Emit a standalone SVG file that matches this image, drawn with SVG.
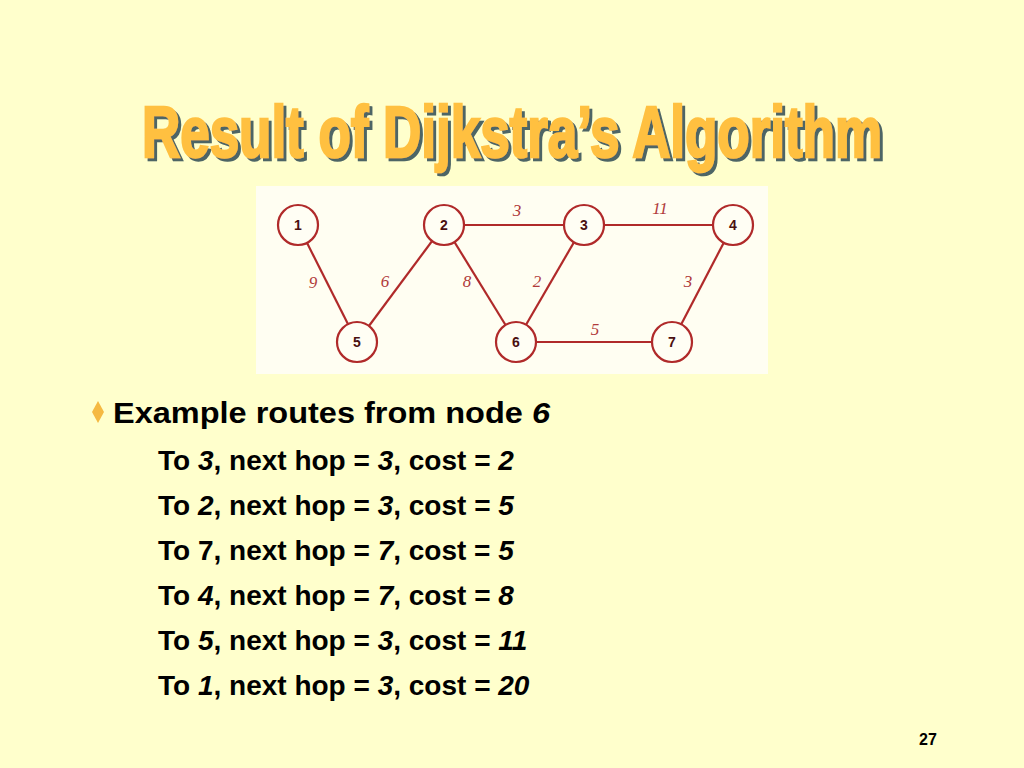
<svg xmlns="http://www.w3.org/2000/svg" width="1024" height="768" viewBox="0 0 1024 768">
<defs>
<filter id="shadow" x="-10%" y="-40%" width="120%" height="180%">
<feFlood flood-color="#4D6565" result="c"/>
<feComposite in="c" in2="SourceAlpha" operator="in" result="s"/>
<feOffset in="s" dx="3" dy="3" result="o"/>
<feMerge><feMergeNode in="o"/><feMergeNode in="SourceGraphic"/></feMerge>
</filter>
</defs>
<style>
.edge{stroke:#B02A2A;stroke-width:2.2;fill:none}
.node circle{fill:#FFFEF4;stroke:#B02A2A;stroke-width:2.2}
.node text{font-family:"Liberation Sans",Arial,sans-serif;font-weight:bold;font-size:14px;fill:#4A1010;text-anchor:middle}
.w{font-family:"Liberation Serif","Times New Roman",serif;font-style:italic;font-size:17px;fill:#B03A3A;text-anchor:middle}
.body{font-family:"Liberation Sans",Arial,sans-serif;font-weight:bold;fill:#000}
.title{font-family:"Liberation Sans Narrow","Liberation Sans",Arial,sans-serif;font-weight:bold;font-size:72px}
</style>
<rect width="1024" height="768" fill="#FFFFCC"/>
<g id="title">
<text class="title" x="512" y="157" text-anchor="middle" fill="#FFC040" stroke="#FFC040" stroke-width="2.5" textLength="740" lengthAdjust="spacingAndGlyphs" filter="url(#shadow)">Result of Dijkstra’s Algorithm</text>
</g>
<rect x="256" y="186" width="512" height="188" fill="#FFFEF2"/>
<g id="connectors">
<line class="edge" x1="298" y1="225" x2="357" y2="342"/>
<line class="edge" x1="357" y1="342" x2="444" y2="225"/>
<line class="edge" x1="444" y1="225" x2="584" y2="225"/>
<line class="edge" x1="584" y1="225" x2="733" y2="225"/>
<line class="edge" x1="444" y1="225" x2="516" y2="342"/>
<line class="edge" x1="584" y1="225" x2="516" y2="342"/>
<line class="edge" x1="516" y1="342" x2="672" y2="342"/>
<line class="edge" x1="733" y1="225" x2="672" y2="342"/>
<text class="w" x="517" y="216">3</text>
<text class="w" x="660" y="214">11</text>
<text class="w" x="313" y="288">9</text>
<text class="w" x="385" y="287">6</text>
<text class="w" x="467" y="287">8</text>
<text class="w" x="537" y="287">2</text>
<text class="w" x="688" y="287">3</text>
<text class="w" x="595" y="335">5</text>
</g>
<g id="n1" class="node"><circle cx="298" cy="225" r="20"/><text x="298" y="230">1</text></g>
<g id="n2" class="node"><circle cx="444" cy="225" r="20"/><text x="444" y="230">2</text></g>
<g id="n3" class="node"><circle cx="584" cy="225" r="20"/><text x="584" y="230">3</text></g>
<g id="n4" class="node"><circle cx="733" cy="225" r="20"/><text x="733" y="230">4</text></g>
<g id="n5" class="node"><circle cx="357" cy="342" r="20"/><text x="357" y="347">5</text></g>
<g id="n6" class="node"><circle cx="516" cy="342" r="20"/><text x="516" y="347">6</text></g>
<g id="n7" class="node"><circle cx="672" cy="342" r="20"/><text x="672" y="347">7</text></g>
<g id="bullets">
<path d="M98,401 L104,412 L98,423 L92,412 Z" fill="#F5B942"/>
<text class="body" x="113" y="423" font-size="29" textLength="437" lengthAdjust="spacingAndGlyphs">Example routes from node <tspan font-style="italic">6</tspan></text>
<text class="body" x="158" y="470" font-size="28">To <tspan font-style="italic">3</tspan>, next hop = <tspan font-style="italic">3</tspan>, cost = <tspan font-style="italic">2</tspan></text>
<text class="body" x="158" y="515" font-size="28">To <tspan font-style="italic">2</tspan>, next hop = <tspan font-style="italic">3</tspan>, cost = <tspan font-style="italic">5</tspan></text>
<text class="body" x="158" y="560" font-size="28">To 7, next hop = <tspan font-style="italic">7</tspan>, cost = <tspan font-style="italic">5</tspan></text>
<text class="body" x="158" y="605" font-size="28">To <tspan font-style="italic">4</tspan>, next hop = <tspan font-style="italic">7</tspan>, cost = <tspan font-style="italic">8</tspan></text>
<text class="body" x="158" y="650" font-size="28">To <tspan font-style="italic">5</tspan>, next hop = <tspan font-style="italic">3</tspan>, cost = <tspan font-style="italic">11</tspan></text>
<text class="body" x="158" y="695" font-size="28">To <tspan font-style="italic">1</tspan>, next hop = <tspan font-style="italic">3</tspan>, cost = <tspan font-style="italic">20</tspan></text>
<text class="body" x="928" y="745" font-size="16" text-anchor="middle">27</text>
</g>
</svg>
